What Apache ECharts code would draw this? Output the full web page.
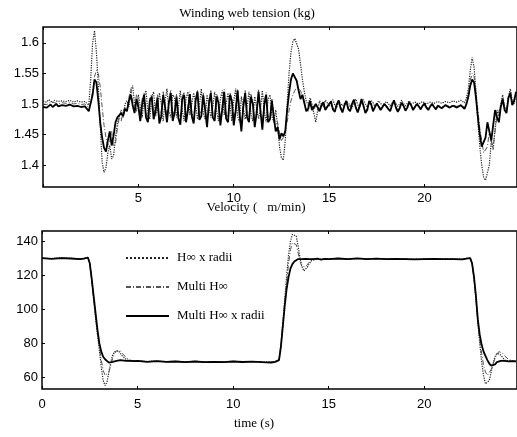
<!DOCTYPE html>
<html><head><meta charset="utf-8">
<script src="https://cdn.jsdelivr.net/npm/echarts@6/dist/echarts.min.js"></script>
<style>html,body{margin:0;padding:0;background:#fff;}#c{width:517px;height:437px;}</style>
</head><body><div id="c"></div>
<script>
const seriesNames = ['H\u221e x radii', 'Multi H\u221e', 'Multi H\u221e x radii'];
const titleTension = 'Winding web tension (kg)';
const titleVelocity = 'Velocity (   m/min)';
const titleTime = 'time (s)';

const xTickValues = [0, 5, 10, 15, 20];
const tensionTicks = [1.4, 1.45, 1.5, 1.55, 1.6];
const velocityTicks = [60, 80, 100, 120, 140];

const timeTension = [
0,0.1,0.2,0.3,0.4,0.5,0.6,0.7,0.8,0.9,
1,1.1,1.2,1.3,1.4,1.5,1.6,1.7,1.8,1.9,
2,2.1,2.2,2.3,2.4,2.5,2.6,2.7,2.8,2.9,
3,3.1,3.2,3.3,3.4,3.5,3.6,3.7,3.8,3.9,
4,4.1,4.2,4.3,4.4,4.5,4.6,4.7,4.8,4.9,
5,5.1,5.2,5.3,5.4,5.5,5.6,5.7,5.8,5.9,
6,6.1,6.2,6.3,6.4,6.5,6.6,6.7,6.8,6.9,
7,7.1,7.2,7.3,7.4,7.5,7.6,7.7,7.8,7.9,
8,8.1,8.2,8.3,8.4,8.5,8.6,8.7,8.8,8.9,
9,9.1,9.2,9.3,9.4,9.5,9.6,9.7,9.8,9.9,
10,10.1,10.2,10.3,10.4,10.5,10.6,10.7,10.8,10.9,
11,11.1,11.2,11.3,11.4,11.5,11.6,11.7,11.8,11.9,
12,12.1,12.2,12.3,12.4,12.5,12.6,12.7,12.8,12.9,
13,13.1,13.2,13.3,13.4,13.5,13.6,13.7,13.8,13.9,
14,14.1,14.2,14.3,14.4,14.5,14.6,14.7,14.8,14.9,
15,15.1,15.2,15.3,15.4,15.5,15.6,15.7,15.8,15.9,
16,16.1,16.2,16.3,16.4,16.5,16.6,16.7,16.8,16.9,
17,17.1,17.2,17.3,17.4,17.5,17.6,17.7,17.8,17.9,
18,18.1,18.2,18.3,18.4,18.5,18.6,18.7,18.8,18.9,
19,19.1,19.2,19.3,19.4,19.5,19.6,19.7,19.8,19.9,
20,20.1,20.2,20.3,20.4,20.5,20.6,20.7,20.8,20.9,
21,21.1,21.2,21.3,21.4,21.5,21.6,21.7,21.8,21.9,
22,22.1,22.2,22.3,22.4,22.5,22.6,22.7,22.8,22.9,
23,23.1,23.2,23.3,23.4,23.5,23.6,23.7,23.8,23.9,
24,24.1,24.2,24.3,24.4,24.5,24.6,24.7,24.8
];

const tensionHinfRadii = [
1.504,1.506,1.503,1.507,1.505,1.502,1.506,1.508,1.504,1.501,
1.505,1.508,1.504,1.502,1.506,1.509,1.503,1.500,1.505,1.507,
1.503,1.500,1.504,1.502,1.498,1.540,1.600,1.620,1.585,1.530,
1.465,1.405,1.388,1.395,1.420,1.432,1.410,1.415,1.445,1.468,
1.480,1.490,1.478,1.500,1.505,1.495,1.520,1.530,1.500,1.488,
1.515,1.495,1.478,1.510,1.522,1.485,1.475,1.512,1.520,1.480,
1.490,1.518,1.500,1.472,1.505,1.525,1.488,1.478,1.515,1.510,
1.478,1.495,1.522,1.490,1.472,1.510,1.520,1.482,1.480,1.518,
1.500,1.475,1.498,1.525,1.485,1.475,1.515,1.512,1.478,1.495,
1.520,1.490,1.472,1.508,1.522,1.482,1.480,1.518,1.500,1.472,
1.505,1.525,1.480,1.470,1.512,1.510,1.475,1.495,1.520,1.485,
1.472,1.512,1.515,1.476,1.490,1.522,1.488,1.470,1.508,1.515,
1.480,1.470,1.490,1.465,1.430,1.412,1.408,1.440,1.500,1.550,
1.585,1.602,1.607,1.605,1.590,1.565,1.540,1.520,1.505,1.498,
1.510,1.500,1.485,1.470,1.490,1.505,1.500,1.495,1.506,1.502,
1.496,1.503,1.507,1.498,1.494,1.504,1.506,1.497,1.495,1.505,
1.507,1.498,1.493,1.503,1.508,1.499,1.494,1.502,1.507,1.500,
1.495,1.500,1.506,1.502,1.496,1.499,1.505,1.503,1.497,1.498,
1.504,1.503,1.497,1.499,1.505,1.502,1.496,1.500,1.506,1.501,
1.497,1.501,1.505,1.500,1.498,1.503,1.506,1.500,1.498,1.504,
1.505,1.500,1.498,1.503,1.506,1.501,1.499,1.504,1.506,1.501,
1.499,1.504,1.507,1.502,1.500,1.505,1.508,1.503,1.501,1.506,
1.508,1.502,1.510,1.525,1.555,1.576,1.560,1.520,1.470,1.430,
1.400,1.380,1.375,1.372,1.400,1.440,1.425,1.460,1.490,1.480,
1.500,1.515,1.495,1.490,1.512,1.525,1.505,1.500,1.515
];

const tensionMultiHinf = [
1.500,1.502,1.499,1.501,1.503,1.500,1.502,1.504,1.500,1.498,
1.502,1.504,1.501,1.499,1.502,1.505,1.500,1.497,1.501,1.503,
1.499,1.496,1.500,1.498,1.494,1.500,1.520,1.545,1.555,1.550,
1.528,1.495,1.465,1.445,1.430,1.440,1.455,1.430,1.435,1.460,
1.478,1.472,1.488,1.495,1.490,1.510,1.525,1.505,1.492,1.515,
1.502,1.480,1.508,1.518,1.485,1.478,1.510,1.516,1.482,1.494,
1.515,1.476,1.488,1.520,1.500,1.478,1.508,1.522,1.480,1.492,
1.516,1.484,1.475,1.512,1.520,1.478,1.496,1.520,1.487,1.476,
1.510,1.522,1.482,1.488,1.518,1.496,1.470,1.506,1.522,1.485,
1.480,1.516,1.508,1.474,1.498,1.524,1.483,1.478,1.518,1.510,
1.474,1.494,1.525,1.490,1.465,1.500,1.522,1.484,1.478,1.516,
1.506,1.470,1.492,1.523,1.494,1.468,1.504,1.519,1.478,1.482,
1.508,1.485,1.465,1.470,1.452,1.440,1.445,1.455,1.470,1.490,
1.505,1.515,1.522,1.527,1.528,1.522,1.512,1.500,1.492,1.488,
1.500,1.494,1.490,1.498,1.497,1.491,1.500,1.502,1.493,1.491,
1.501,1.503,1.494,1.490,1.500,1.504,1.495,1.489,1.498,1.503,
1.494,1.491,1.501,1.505,1.496,1.489,1.497,1.505,1.498,1.488,
1.493,1.503,1.501,1.491,1.490,1.501,1.503,1.493,1.492,1.501,
1.502,1.494,1.491,1.499,1.504,1.496,1.490,1.495,1.501,1.498,
1.492,1.496,1.502,1.499,1.492,1.494,1.501,1.497,1.493,1.498,
1.501,1.496,1.492,1.497,1.501,1.497,1.493,1.498,1.500,1.495,
1.494,1.499,1.501,1.496,1.494,1.498,1.500,1.496,1.495,1.499,
1.497,1.494,1.500,1.515,1.538,1.550,1.545,1.520,1.490,1.460,
1.440,1.420,1.418,1.430,1.455,1.440,1.430,1.455,1.480,1.488,
1.498,1.510,1.495,1.488,1.508,1.520,1.502,1.500,1.518
];

const tensionMultiRadii = [
1.495,1.497,1.494,1.496,1.499,1.495,1.497,1.500,1.496,1.494,
1.498,1.501,1.497,1.495,1.499,1.502,1.496,1.493,1.497,1.500,
1.495,1.492,1.496,1.494,1.488,1.486,1.515,1.540,1.535,1.505,
1.470,1.445,1.428,1.422,1.440,1.455,1.432,1.448,1.470,1.478,
1.475,1.485,1.480,1.492,1.488,1.505,1.515,1.498,1.485,1.508,
1.495,1.472,1.500,1.515,1.478,1.470,1.505,1.512,1.475,1.488,
1.510,1.468,1.480,1.515,1.495,1.470,1.502,1.518,1.472,1.485,
1.512,1.476,1.466,1.508,1.515,1.470,1.490,1.516,1.480,1.468,
1.505,1.520,1.474,1.480,1.514,1.490,1.462,1.500,1.518,1.478,
1.472,1.512,1.502,1.465,1.492,1.520,1.476,1.470,1.515,1.505,
1.465,1.488,1.522,1.485,1.455,1.495,1.518,1.478,1.470,1.512,
1.500,1.462,1.485,1.520,1.488,1.458,1.498,1.515,1.470,1.475,
1.505,1.478,1.455,1.462,1.442,1.452,1.447,1.455,1.490,1.518,
1.540,1.550,1.548,1.538,1.522,1.508,1.515,1.502,1.488,1.492,
1.505,1.490,1.487,1.500,1.494,1.488,1.498,1.503,1.490,1.488,
1.500,1.504,1.491,1.487,1.499,1.506,1.493,1.486,1.497,1.505,
1.492,1.488,1.500,1.507,1.494,1.486,1.496,1.508,1.497,1.485,
1.490,1.505,1.500,1.488,1.487,1.501,1.504,1.490,1.489,1.500,
1.503,1.492,1.488,1.498,1.506,1.494,1.487,1.493,1.502,1.497,
1.489,1.494,1.503,1.498,1.490,1.492,1.500,1.496,1.491,1.497,
1.501,1.494,1.490,1.496,1.500,1.495,1.491,1.497,1.499,1.493,
1.492,1.498,1.500,1.494,1.492,1.497,1.499,1.494,1.493,1.498,
1.496,1.492,1.500,1.512,1.530,1.540,1.535,1.510,1.478,1.450,
1.430,1.428,1.445,1.470,1.455,1.440,1.465,1.490,1.478,1.470,
1.495,1.508,1.490,1.485,1.510,1.518,1.498,1.505,1.520
];

const timeVelocity = [
0,0.5,1,1.5,2,2.2,2.4,2.5,2.6,2.7,
2.8,2.9,3.0,3.1,3.2,3.3,3.4,3.5,3.6,3.7,
3.8,3.9,4.0,4.1,4.2,4.4,4.6,4.8,5,5.5,
6,6.5,7,7.5,8,8.5,9,9.5,10,10.5,
11,11.5,12,12.2,12.4,12.5,12.6,12.7,12.8,12.9,
13.0,13.1,13.2,13.3,13.4,13.5,13.6,13.7,13.8,13.9,
14.0,14.1,14.2,14.4,14.6,14.8,15,15.5,16,16.5,
17,17.5,18,18.5,19,19.5,20,20.5,21,21.5,
22,22.2,22.4,22.5,22.6,22.7,22.8,22.9,23.0,23.1,
23.2,23.3,23.4,23.5,23.6,23.7,23.8,23.9,24.0,24.1,
24.2,24.4,24.6,24.8
];

const velHinfRadii = [
130,129.8,130.2,129.9,129.7,129.9,130.5,127,117,106,
95,85,76,66,58,55,57,63,69,73,
75,76,75.5,74,72.5,70.5,69.5,69.8,69.6,69.2,
69.5,69.1,69.3,69,69.3,69,69.2,69,69.3,69,
69.2,69,68.8,69.2,70,79,92,106,120,132,
140,144,145,143,137,130,125,122.5,123,125,
127,128.5,129.5,129.8,129.4,129.7,129.6,129.9,129.5,129.8,
129.6,129.8,129.5,129.7,129.6,129.4,129.6,129.7,129.5,129.6,
129.4,129.9,130.2,127,118,106,92,80,69,61,
56,55.5,58,63,68,72,74,74.5,73,71.5,
70,69.5,69.5,69.4
];

const velMultiHinf = [
130,129.7,130.1,129.8,129.6,129.8,130.4,127,117.5,107,
96.5,86.5,78,70,64,61,60.5,63,67,71,
74,75.5,76,75.5,74,71.5,70,69.6,69.5,69.1,
69.4,69,69.2,68.9,69.2,68.9,69.1,68.9,69.2,68.9,
69.1,68.9,68.7,69.1,70,78.5,91,104,116,127,
135,139,140,138,133,128,125,124,125,126.5,
128,129,129.5,129.6,129.3,129.6,129.5,129.8,129.4,129.8,
129.5,129.7,129.4,129.6,129.5,129.3,129.5,129.6,129.4,129.5,
129.3,129.8,130,127,118.5,107,93,82,74,67,
63,61,62,64.5,68,71,73.5,75,75,74,
72.5,70.5,69.6,69.3
];

const velMultiRadii = [
130,129.6,130,129.8,129.5,129.8,130.4,127,118,108,
98,88,80,75,72,70.5,69.5,68.5,68,69,
70,69.6,69.5,70,69.8,69.5,69.6,69.4,69.5,69,
69.4,69,69.2,68.8,69.2,68.8,69,68.8,69.2,68.9,
69.1,68.8,68.6,69,70,78,90,102,112,119,
124,126.5,128,129,129.5,129.8,129.5,129.8,129.6,129.4,
129.5,129.6,129.4,129.7,129.2,129.6,129.5,129.8,129.4,129.9,
129.5,129.7,129.4,129.6,129.5,129.3,129.5,129.6,129.4,129.5,
129.3,129.8,130,127,119,108,94,85,79,75,
72.5,70,68,66.8,66.3,67.5,68.8,69.3,69.5,69.3,
69.5,69.2,69.4,69.3
];

function pairs(t, v) { return t.map((x, i) => [x, v[i]]); }

const lineStyles = [
  { type: 'dotted', width: 1.2, color: '#222' },
  { type: [5, 2, 1, 2], width: 1, color: '#555' },
  { type: 'solid', width: 1.8, color: '#000' }
];
const tensionSets = [tensionHinfRadii, tensionMultiHinf, tensionMultiRadii];
const velocitySets = [velHinfRadii, velMultiHinf, velMultiRadii];

const sansFont = '"Liberation Sans", Arial, sans-serif';
const serifFont = '"Liberation Serif", "Times New Roman", serif';

const series = [];
seriesNames.forEach((name, i) => {
  series.push({
    name, type: 'line', xAxisIndex: 0, yAxisIndex: 0, symbol: 'none',
    lineStyle: lineStyles[i], itemStyle: { color: lineStyles[i].color },
    data: pairs(timeTension, tensionSets[i]), z: 2 + i, animation: false
  });
});
seriesNames.forEach((name, i) => {
  series.push({
    name, type: 'line', xAxisIndex: 2, yAxisIndex: 1, symbol: 'none',
    lineStyle: lineStyles[i], itemStyle: { color: lineStyles[i].color },
    data: pairs(timeVelocity, velocitySets[i]), z: 2 + i, animation: false
  });
});

function xAx(grid, pos, labels, margin, labelValues) {
  return {
    type: 'value', gridIndex: grid, position: pos, min: 0, max: 24.85,
    axisLine: { show: false },
    axisTick: { show: true, inside: true, length: 3, customValues: xTickValues, lineStyle: { color: '#000', width: 1 } },
    axisLabel: { show: labels, customValues: labelValues, margin: margin, color: '#000', fontSize: 13, fontFamily: sansFont },
    splitLine: { show: false }
  };
}
function yAx(grid, min, max, ticks) {
  return {
    type: 'value', gridIndex: grid, min: min, max: max,
    axisLine: { show: false },
    axisTick: { show: true, inside: true, length: 3, customValues: ticks, lineStyle: { color: '#000', width: 1 } },
    axisLabel: { customValues: ticks, margin: 4, color: '#000', fontSize: 13, fontFamily: sansFont },
    splitLine: { show: false }
  };
}

const chart = echarts.init(document.getElementById('c'), null, { renderer: 'canvas' });
chart.setOption({
  animation: false,
  backgroundColor: '#fff',
  grid: [
    { left: 43, right: -2, top: 27, height: 160, show: true, borderColor: '#000', borderWidth: 1.5, backgroundColor: 'transparent' },
    { left: 42, right: -2, top: 231, height: 158, show: true, borderColor: '#000', borderWidth: 1.5, backgroundColor: 'transparent' }
  ],
  xAxis: [
    xAx(0, 'bottom', true, 5, [5, 10, 15, 20]),
    xAx(0, 'top', false, 5, xTickValues),
    xAx(1, 'bottom', true, 9, xTickValues),
    xAx(1, 'top', false, 5, xTickValues)
  ],
  yAxis: [
    yAx(0, 1.364, 1.626, tensionTicks),
    yAx(1, 53, 146, velocityTicks)
  ],
  legend: {
    data: seriesNames, orient: 'vertical', left: 125, top: 251, padding: 0,
    itemWidth: 43, itemHeight: 14, itemGap: 15,
    itemStyle: { color: 'rgba(0,0,0,0)', borderColor: 'rgba(0,0,0,0)', borderWidth: 0, opacity: 0 },
    textStyle: { fontFamily: serifFont, fontSize: 13, color: '#000', lineHeight: 14, padding: [0, 0, 0, 3] },
    inactiveColor: '#ccc'
  },
  graphic: [
    { type: 'text', style: { text: titleTension, x: 247, y: 14, textAlign: 'center', textVerticalAlign: 'middle', font: '13px ' + serifFont, fill: '#000' } },
    { type: 'text', style: { text: titleVelocity, x: 256, y: 208, textAlign: 'center', textVerticalAlign: 'middle', font: '13px ' + serifFont, fill: '#000' } },
    { type: 'text', style: { text: titleTime, x: 254, y: 424, textAlign: 'center', textVerticalAlign: 'middle', font: '13px ' + serifFont, fill: '#000' } }
  ],
  series: series
});
</script></body></html>
